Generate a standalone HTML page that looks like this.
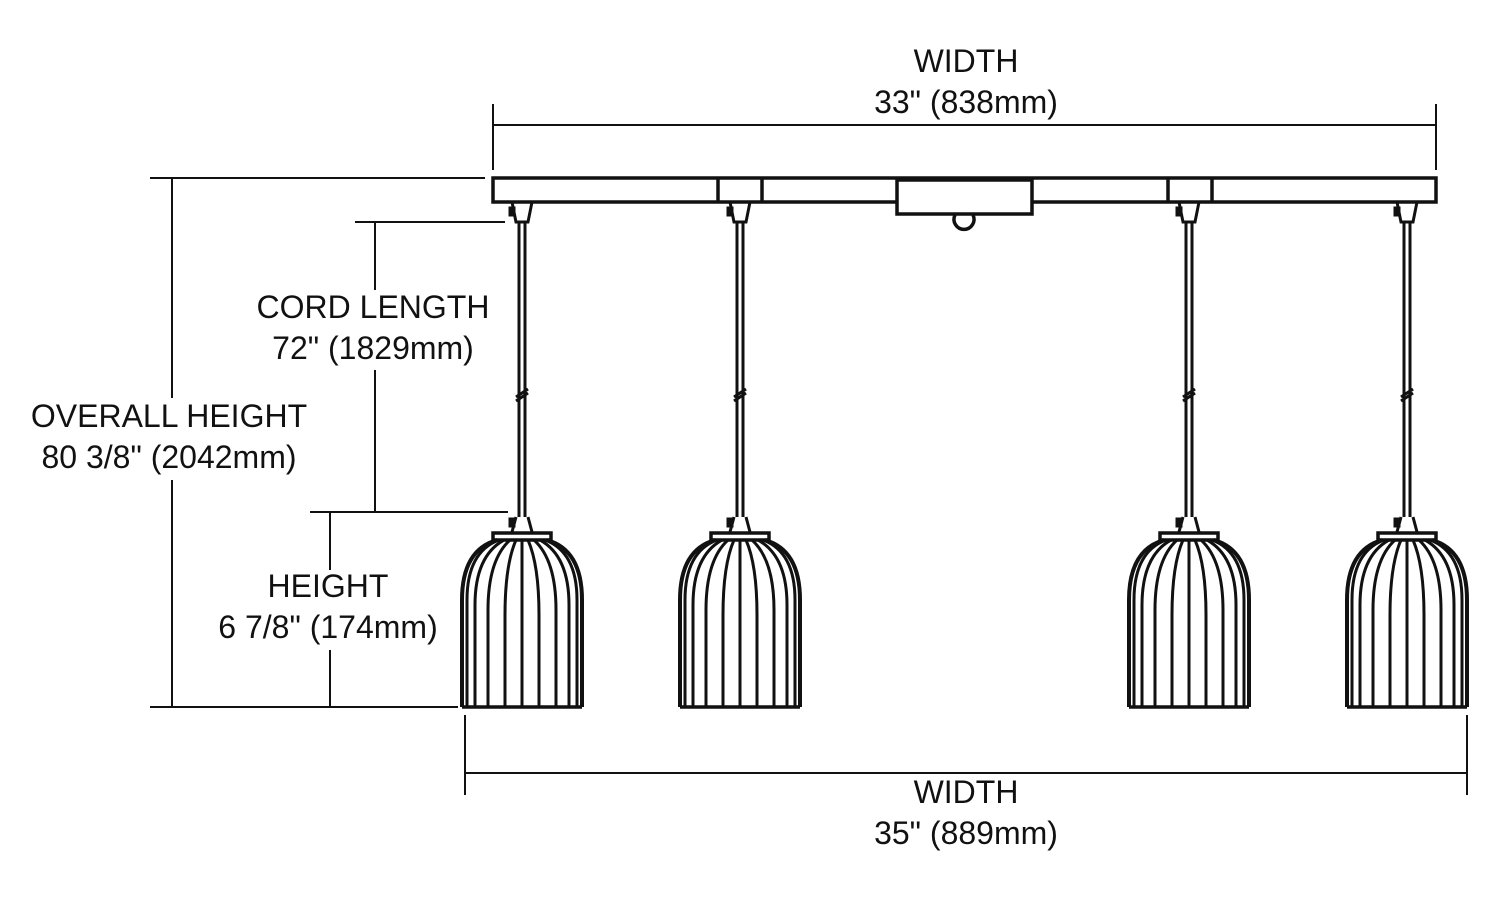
<!DOCTYPE html>
<html><head><style>
html,body{margin:0;padding:0;background:#fff;}
svg{display:block}
text{font-family:"Liberation Sans",Arial,sans-serif;font-size:32px;fill:#111;text-anchor:middle}
</style></head><body>
<svg width="1500" height="901" viewBox="0 0 1500 901" xmlns="http://www.w3.org/2000/svg">
<g stroke="#111" fill="none" stroke-width="2">
<line x1="493" y1="125" x2="1436" y2="125"/>
<line x1="493" y1="104" x2="493" y2="170"/>
<line x1="1436" y1="104" x2="1436" y2="170"/>
<line x1="465" y1="773" x2="1467" y2="773"/>
<line x1="465" y1="715" x2="465" y2="795"/>
<line x1="1467" y1="715" x2="1467" y2="795"/>
<line x1="150" y1="178" x2="485" y2="178"/>
<line x1="150" y1="707" x2="458" y2="707"/>
<line x1="172" y1="178" x2="172" y2="398"/>
<line x1="172" y1="480" x2="172" y2="707"/>
<line x1="355" y1="222" x2="505" y2="222"/>
<line x1="310" y1="512" x2="508" y2="512"/>
<line x1="375" y1="222" x2="375" y2="290"/>
<line x1="375" y1="370" x2="375" y2="512"/>
<line x1="330" y1="512" x2="330" y2="570"/>
<line x1="330" y1="650" x2="330" y2="707"/>
</g>
<g stroke="#111" fill="#fff" stroke-width="3.5">
<rect x="493" y="178" width="943" height="24"/>
<line x1="718" y1="178" x2="718" y2="202"/>
<line x1="762" y1="178" x2="762" y2="202"/>
<line x1="1168" y1="178" x2="1168" y2="202"/>
<line x1="1212" y1="178" x2="1212" y2="202"/>
<rect x="897" y="180" width="135" height="34"/>
<path d="M955 215 A10 10 0 1 0 973 215" fill="none"/>
</g>
<defs>
<g id="p" stroke="#111" fill="none" stroke-width="3.5">
<path d="M-10 202 L-6 222 L6 222 L10 202" stroke-width="3"/>
<rect x="-13" y="207" width="6" height="9" fill="#111" stroke-width="1"/>
<line x1="-3" y1="222" x2="-3" y2="517" stroke-width="3"/>
<line x1="3" y1="222" x2="3" y2="517" stroke-width="3"/>
<path d="M-6 397 L6 389 M-6 401 L6 393" stroke-width="3"/>
<path d="M-6 517 L-10 532 M6 517 L10 532" stroke-width="3"/>
<rect x="-13" y="518" width="6" height="9" fill="#111" stroke-width="1"/>
<rect x="-29" y="533" width="58" height="7" fill="#fff"/>
<path d="M-25 540 Q-60 550 -60 600 L-60 707" stroke-width="4"/>
<path d="M-23 540 Q-55 552 -55 600 L-55 707" stroke-width="3"/>
<path d="M-18 540 Q-47 556 -47 605 L-47 707" stroke-width="3"/>
<path d="M-12 540 Q-34 560 -34 610 L-34 707" stroke-width="3"/>
<path d="M-6 540 Q-17 565 -17 615 L-17 707" stroke-width="3"/>
<path d="M0 540 L0 707" stroke-width="3"/>
<path d="M6 540 Q17 565 17 615 L17 707" stroke-width="3"/>
<path d="M12 540 Q34 560 34 610 L34 707" stroke-width="3"/>
<path d="M18 540 Q47 556 47 605 L47 707" stroke-width="3"/>
<path d="M23 540 Q55 552 55 600 L55 707" stroke-width="3"/>
<path d="M25 540 Q60 550 60 600 L60 707" stroke-width="4"/>
<line x1="-60" y1="707" x2="60" y2="707"/>
</g>
</defs>
<use href="#p" x="522"/>
<use href="#p" x="740"/>
<use href="#p" x="1189"/>
<use href="#p" x="1407"/>
<text x="966" y="72">WIDTH</text>
<text x="966" y="113">33" (838mm)</text>
<text x="966" y="803">WIDTH</text>
<text x="966" y="844">35" (889mm)</text>
<text x="373" y="318">CORD LENGTH</text>
<text x="373" y="359">72" (1829mm)</text>
<text x="169" y="427">OVERALL HEIGHT</text>
<text x="169" y="468">80 3/8" (2042mm)</text>
<text x="328" y="597">HEIGHT</text>
<text x="328" y="638">6 7/8" (174mm)</text>
</svg>
</body></html>
